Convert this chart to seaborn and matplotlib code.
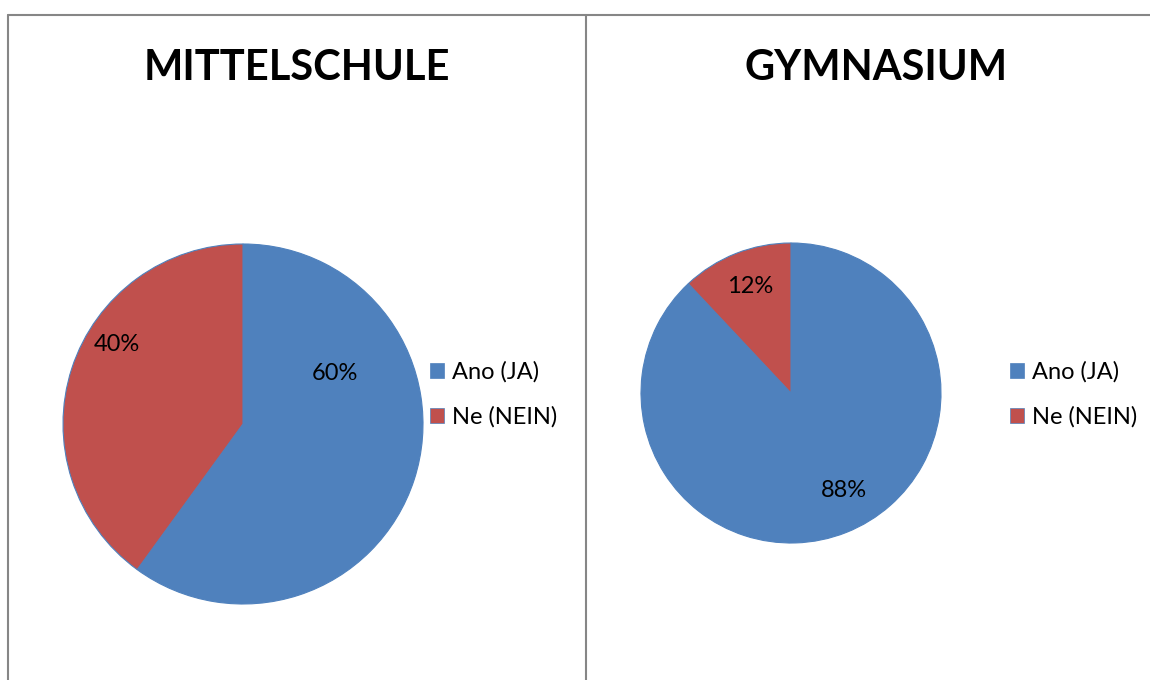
import numpy as np
import matplotlib
matplotlib.use("Agg")
import matplotlib.pyplot as plt
from matplotlib.patches import Patch
from matplotlib.lines import Line2D
import seaborn as sns

# Daten
kategorien = ["Ano (JA)", "Ne (NEIN)"]
titel = ["MITTELSCHULE", "GYMNASIUM"]
mittelschule = [60, 40]
gymnasium = [88, 12]

sns.set_theme(style="white")
plt.rcParams['font.family'] = ['Lato', 'DejaVu Sans']
plt.rcParams['text.color'] = 'black'
farben = ["#4F81BD", "#C0504D"]

W, H = 1150, 680
fig = plt.figure(figsize=(W / 100, H / 100), dpi=100)

# Position (x, y) der Prozentangaben relativ zum Kreis (Radius 1)
label_pos = [
    [(0.51, 0.28), (-0.70, 0.44)],
    [(0.35, -0.65), (-0.27, 0.71)],
]
# Kreismittelpunkt und Radius in Pixeln
kreise = [(243, 424, 180), (791, 393, 150)]
titel_x = [297, 876]
legende_x = [430, 1010]

for i, werte in enumerate([mittelschule, gymnasium]):
    cx, cy, r = kreise[i]
    ax = fig.add_axes([(cx - r) / W, (H - cy - r) / H, 2 * r / W, 2 * r / H])
    wedges, texts, autotexts = ax.pie(
        werte, colors=farben, startangle=90, counterclock=False,
        autopct="%d%%", textprops=dict(fontsize=17, color="black"),
        wedgeprops=dict(edgecolor="#4F81BD", linewidth=0.8))
    for t, pos in zip(autotexts, label_pos[i]):
        t.set_position(pos)
        t.set_ha("center")
        t.set_va("center")
    ax.set_xlim(-1, 1)
    ax.set_ylim(-1, 1)
    ax.set_aspect("equal")
    ax.axis("off")

    fig.text(titel_x[i] / W, 1 - 68 / H, titel[i], ha="center", va="center",
             fontsize=30, fontweight="bold", color="black")

    handles = [Patch(facecolor=c, edgecolor="#4F81BD", linewidth=0.5) for c in farben]
    fig.legend(handles, kategorien, loc="center left",
               bbox_to_anchor=(legende_x[i] / W, 1 - 394.5 / H),
               frameon=False, fontsize=17, borderpad=0, borderaxespad=0,
               handlelength=0.6, handleheight=0.6, handletextpad=0.35,
               labelspacing=1.0, labelcolor="black")

# Rahmen der beiden Diagrammfelder
rahmen = dict(color="#868686", linewidth=1.5, transform=fig.transFigure)
fig.add_artist(Line2D([8 / W, 1], [1 - 15 / H, 1 - 15 / H], **rahmen))
fig.add_artist(Line2D([8 / W, 8 / W], [0, 1 - 15 / H], **rahmen))
fig.add_artist(Line2D([586 / W, 586 / W], [0, 1 - 15 / H], **rahmen))

fig.savefig("out.png", dpi=100, facecolor="white")
